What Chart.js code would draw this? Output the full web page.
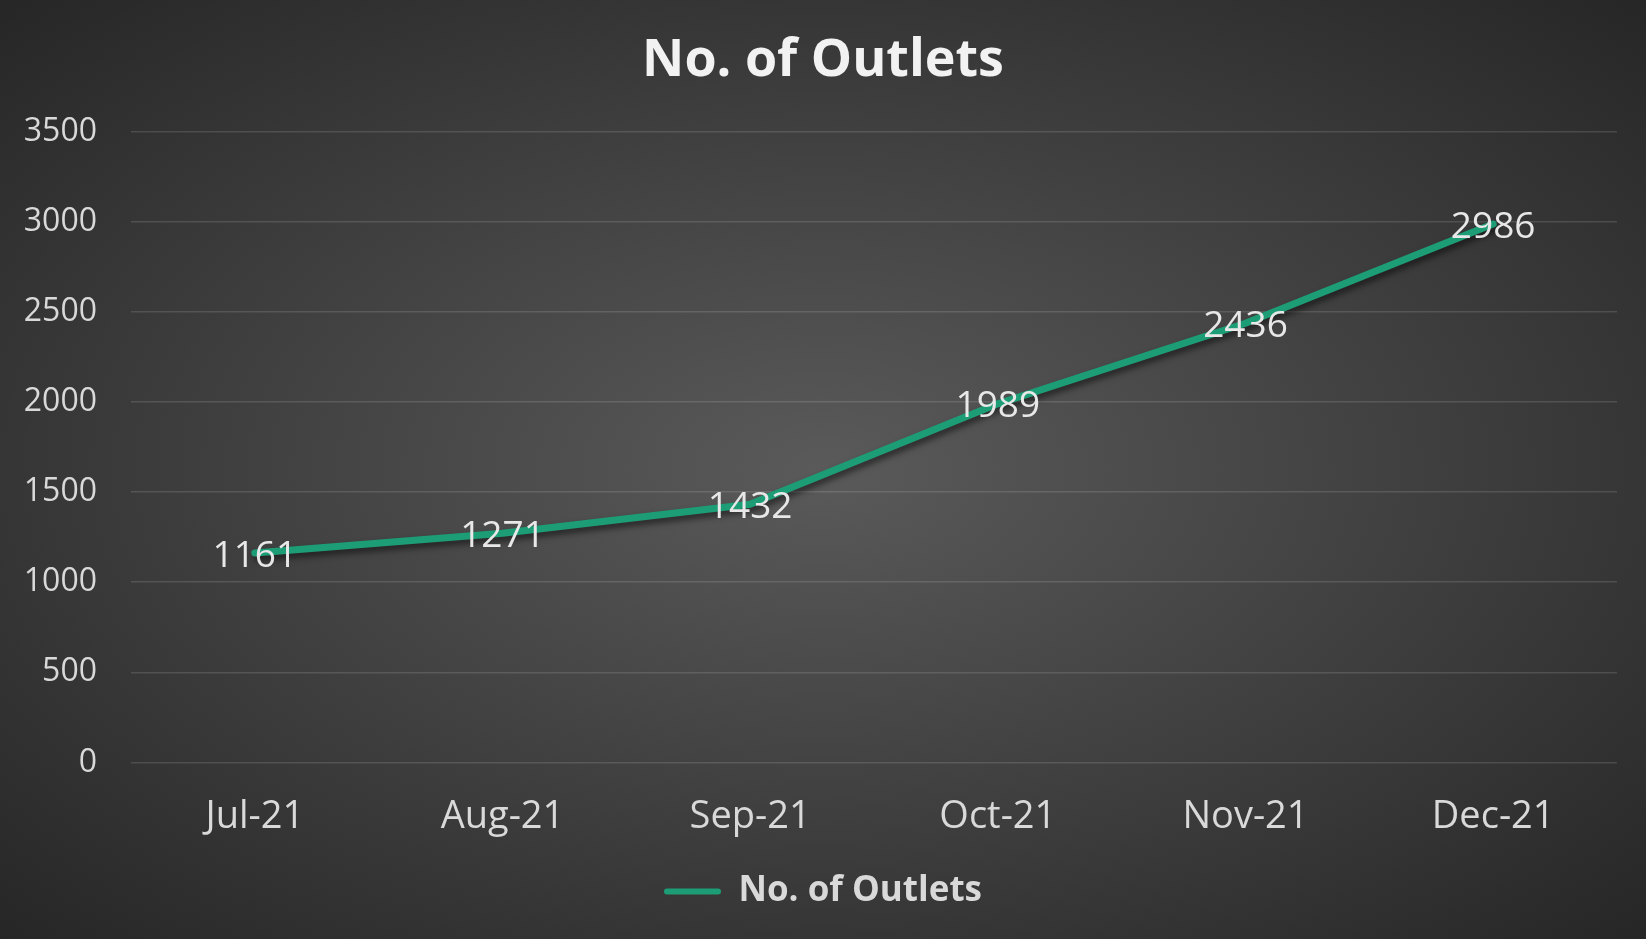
<!DOCTYPE html>
<html>
<head>
<meta charset="utf-8">
<script src="https://cdn.jsdelivr.net/npm/chart.js@4"></script>
<style>
  html, body { margin: 0; padding: 0; }
  #wrap {
    width: 1646px; height: 939px; position: relative;
    background: radial-gradient(ellipse farthest-corner at 50% 50%, #5a5a5a 0%, #404040 50%, #262626 100%);
  }
</style>
</head>
<body>
<div id="wrap"><canvas id="outlets-chart" width="1646" height="939"></canvas></div>
<script>
// data
const months = ['Jul-21', 'Aug-21', 'Sep-21', 'Oct-21', 'Nov-21', 'Dec-21'];
const outlets = [1161, 1271, 1432, 1989, 2436, 2986];
const yTicks = [0, 500, 1000, 1500, 2000, 2500, 3000, 3500];

const green = '#1d9d76';
const textColor = '#d9d9d9';
const fontFamily = '"Open Sans", Lato, sans-serif';

// soft drop shadow under the line
const lineShadow = {
    id: 'lineShadow',
    beforeDatasetDraw(chart) {
        const ctx = chart.ctx;
        ctx.save();
        ctx.shadowColor = 'rgba(0,0,0,0.55)';
        ctx.shadowBlur = 6;
        ctx.shadowOffsetX = 2;
        ctx.shadowOffsetY = 4;
    },
    afterDatasetDraw(chart) {
        chart.ctx.restore();
    }
};

// value labels centred on each point
const valueLabels = {
    id: 'valueLabels',
    afterDatasetsDraw(chart) {
        const ctx = chart.ctx;
        const meta = chart.getDatasetMeta(0);
        ctx.save();
        ctx.font = '37px ' + fontFamily;
        ctx.fillStyle = '#e8e8e8';
        ctx.textAlign = 'center';
        ctx.textBaseline = 'middle';
        meta.data.forEach((pt, i) => {
            ctx.fillText(String(outlets[i]), pt.x, pt.y + 3);
        });
        ctx.restore();
    }
};

new Chart(document.getElementById('outlets-chart'), {
    type: 'line',
    data: {
        labels: months,
        datasets: [{
            label: 'No. of Outlets',
            data: outlets,
            borderColor: green,
            backgroundColor: green,
            borderWidth: 7,
            borderCapStyle: 'round',
            borderJoinStyle: 'round',
            pointRadius: 0,
            tension: 0
        }]
    },
    options: {
        responsive: false,
        animation: false,
        layout: { padding: { left: 0, right: 0, top: 0, bottom: 20 } },
        plugins: {
            title: {
                display: true,
                text: 'No. of Outlets',
                color: '#f2f2f2',
                font: { family: fontFamily, size: 52, weight: 'bold' },
                padding: { top: 30, bottom: 39 }
            },
            legend: {
                position: 'bottom',
                labels: {
                    color: textColor,
                    font: { family: fontFamily, size: 35, weight: 'bold' },
                    boxWidth: 57,
                    boxHeight: 6,
                    padding: 10,
                    generateLabels: () => [{
                        text: 'No. of Outlets',
                        fillStyle: green,
                        strokeStyle: green,
                        lineWidth: 0,
                        borderRadius: 3,
                        fontColor: textColor,
                        datasetIndex: 0
                    }]
                }
            },
            tooltip: { enabled: false }
        },
        scales: {
            x: {
                offset: true,
                grid: { display: false },
                border: { display: false },
                ticks: { color: textColor, padding: 24, font: { family: fontFamily, size: 38 } }
            },
            y: {
                min: 0,
                max: 3500,
                afterFit: s => { s.width = 131; },
                afterBuildTicks: s => { s.ticks = yTicks.map(v => ({ value: v })); },
                grid: { color: 'rgba(255,255,255,0.13)', lineWidth: 1.5, drawTicks: false },
                border: { display: false },
                ticks: {
                    color: textColor, padding: 34,
                    font: { family: fontFamily, size: 32 },
                    callback: v => String(v)
                }
            },
            // empty right-hand margin so title and legend stay centred on the canvas
            yRight: {
                position: 'right',
                afterFit: s => { s.width = 29; },
                grid: { display: false },
                border: { display: false },
                ticks: { display: false }
            }
        }
    },
    plugins: [lineShadow, valueLabels]
});
</script>
</body>
</html>
